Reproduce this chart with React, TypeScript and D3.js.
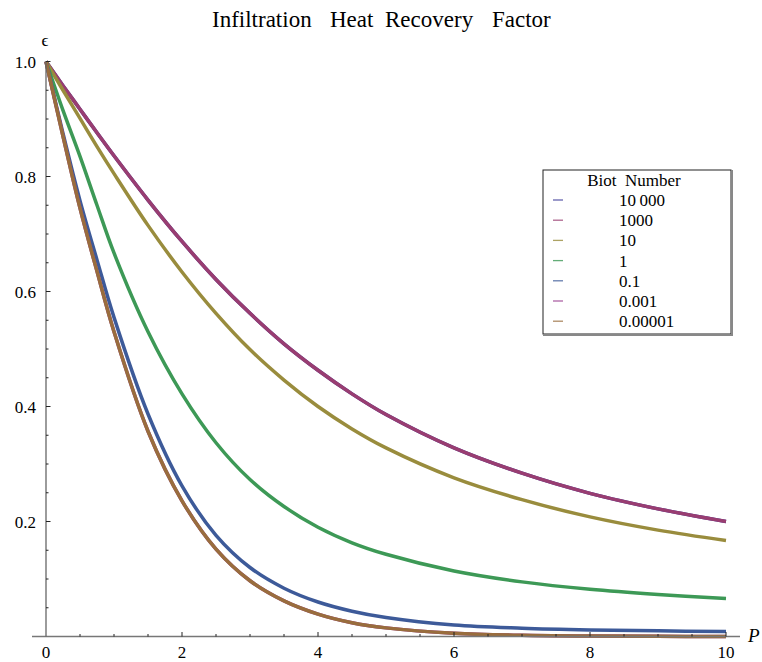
import React from "react";
import * as d3 from "d3";

// Peclet number grid and heat recovery factor
const peclet = [0, 0.25, 0.5, 0.75, 1, 1.5, 2, 2.5, 3, 3.5, 4, 4.5, 5, 6, 7, 8, 9, 10];
const bi10000 = [1, 0.958, 0.917, 0.876, 0.836, 0.759, 0.687, 0.621, 0.562, 0.509, 0.463, 0.422, 0.386, 0.328, 0.284, 0.249, 0.222, 0.2];
const bi1000 = [1, 0.958, 0.917, 0.876, 0.836, 0.759, 0.687, 0.621, 0.562, 0.509, 0.463, 0.422, 0.386, 0.328, 0.284, 0.249, 0.222, 0.2];
const bi10 = [1, 0.95, 0.901, 0.852, 0.805, 0.715, 0.634, 0.562, 0.499, 0.446, 0.4, 0.361, 0.328, 0.276, 0.238, 0.208, 0.185, 0.167];
const bi1 = [1, 0.915, 0.835, 0.75, 0.667, 0.53, 0.422, 0.337, 0.273, 0.226, 0.19, 0.163, 0.143, 0.114, 0.095, 0.082, 0.073, 0.066];
const bi01 = [1, 0.875, 0.758, 0.655, 0.555, 0.387, 0.262, 0.176, 0.12, 0.084, 0.06, 0.044, 0.033, 0.02, 0.0145, 0.0115, 0.0098, 0.0087];
const bi0001 = [1, 0.87, 0.745, 0.635, 0.53, 0.357, 0.236, 0.152, 0.097, 0.062, 0.039, 0.024, 0.015, 0.0055, 0.002, 0.0008, 0.0003, 0.0001];
const bi000001 = [1, 0.87, 0.745, 0.635, 0.53, 0.357, 0.236, 0.152, 0.097, 0.062, 0.039, 0.024, 0.015, 0.0055, 0.002, 0.0008, 0.0003, 0.0001];

const legendLabels = ["10\u2009000", "1000", "10", "1", "0.1", "0.001", "0.00001"];
const seriesValues = [bi10000, bi1000, bi10, bi1, bi01, bi0001, bi000001];
const colors = ["#3f3d99", "#993d71", "#998c3d", "#3d9956", "#3d5a99", "#993d90", "#996d3d"];

const font = "'Liberation Serif', 'Times New Roman', serif";

export default function App() {
  const x = d3.scaleLinear().domain([0, 10]).range([46, 726]);
  const y = d3.scaleLinear().domain([0, 1]).range([636.5, 61.5]);

  const line = d3
    .line<number>()
    .x((_, i) => x(peclet[i]))
    .y((d) => y(d))
    .curve(d3.curveCatmullRom.alpha(0.5));

  const xMajor = x.ticks(5);
  const xMinor = d3.range(0.5, 10.01, 0.5).filter((v) => Math.abs(v % 2) > 1e-6);
  const yMajor = y.ticks(5).filter((v) => v > 0);
  const yMinor = d3.range(1, 21).map((k) => k * 0.05).filter((v, k) => (k + 1) % 4 !== 0);

  const legendX = 543;
  const legendY = 170;
  const rowH = 20.2;

  return (
    <div style={{ position: "absolute", left: 0, top: 0 }}>
      <svg width={762} height={662} style={{ display: "block", background: "#fff" }} fontFamily={font}>
        {/* title */}
        <text x={212} y={27} fontSize={23}>Infiltration</text>
        <text x={330} y={27} fontSize={23}>Heat</text>
        <text x={385} y={27} fontSize={23}>Recovery</text>
        <text x={492} y={27} fontSize={23}>Factor</text>

        {/* curves */}
        {seriesValues.map((vals, i) => (
          <path key={i} d={line(vals) || ""} fill="none" stroke={colors[i]} strokeWidth={3.5} strokeLinejoin="round" />
        ))}

        {/* axes */}
        <line x1={32} x2={740} y1={y(0)} y2={y(0)} stroke="#777" strokeWidth={1.6} />
        <line x1={x(0)} x2={x(0)} y1={y(0)} y2={y(1)} stroke="#666" strokeWidth={1.3} />

        {xMajor.filter((v) => v > 0).map((v) => (
          <line key={"xM" + v} x1={x(v)} x2={x(v)} y1={y(0)} y2={y(0) - 4.5} stroke="#222" strokeWidth={1} />
        ))}
        {xMinor.map((v) => (
          <line key={"xm" + v} x1={x(v)} x2={x(v)} y1={y(0)} y2={y(0) - 2.5} stroke="#222" strokeWidth={1} />
        ))}
        {yMajor.map((v) => (
          <line key={"yM" + v} x1={x(0)} x2={x(0) + 4.5} y1={y(v)} y2={y(v)} stroke="#222" strokeWidth={1} />
        ))}
        {yMinor.map((v) => (
          <line key={"ym" + v} x1={x(0)} x2={x(0) + 2.5} y1={y(v)} y2={y(v)} stroke="#222" strokeWidth={1} />
        ))}

        {xMajor.map((v) => (
          <text key={"xl" + v} x={x(v)} y={658} fontSize={17} textAnchor="middle">
            {v}
          </text>
        ))}
        {yMajor.map((v) => (
          <text key={"yl" + v} x={36} y={y(v) + 6} fontSize={17} textAnchor="end">
            {d3.format(".1f")(v)}
          </text>
        ))}

        <text x={45} y={46} fontSize={17} textAnchor="middle">ϵ</text>
        <text x={748} y={642} fontSize={19} fontStyle="italic">P</text>

        {/* legend */}
        <rect x={legendX} y={legendY} width={188} height={164} fill="#fff" stroke="#222" strokeWidth={1} />
        <line x1={legendX + 189} x2={legendX + 189} y1={legendY} y2={legendY + 166} stroke="#888" strokeWidth={2} />
        <line x1={legendX} x2={legendX + 190} y1={legendY + 165} y2={legendY + 165} stroke="#888" strokeWidth={2} />
        <text x={634} y={legendY + 16} fontSize={17} textAnchor="middle" style={{ whiteSpace: "pre" }}>
          Biot  Number
        </text>
        {legendLabels.map((lab, i) => {
          const cy = legendY + 30 + i * rowH;
          return (
            <g key={lab}>
              <line x1={553} x2={563} y1={cy} y2={cy} stroke={colors[i]} strokeWidth={1.3} strokeOpacity={0.8} />
              <text x={619} y={cy + 6} fontSize={17}>
                {lab}
              </text>
            </g>
          );
        })}
      </svg>
    </div>
  );
}
